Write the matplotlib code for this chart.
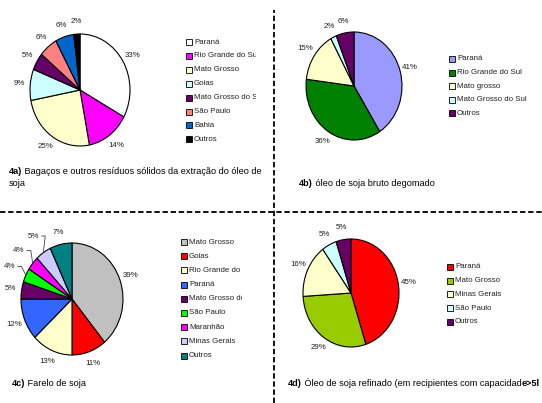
import matplotlib
matplotlib.use('Agg')
import matplotlib.pyplot as plt
import numpy as np
from matplotlib.patches import Rectangle
from matplotlib.lines import Line2D
from matplotlib.text import Annotation
from matplotlib.transforms import Bbox, TransformedBbox

plt.rcParams['font.family'] = ['Liberation Sans', 'DejaVu Sans']

W, H = 542, 403

# ── data ──────────────────────────────────────────────────────────────────────
a_labels = ['Paraná', 'Rio Grande do Sul', 'Mato Grosso', 'Goias',
            'Mato Grosso do Sul', 'São Paulo', 'Bahia', 'Outros']
a_values = [33, 14, 25, 9, 5, 6, 6, 2]
a_colors = ['#FFFFFF', '#FF00FF', '#FFFFCC', '#CCFFFF', '#660066',
            '#FF8080', '#0066CC', '#000000']

b_labels = ['Paraná', 'Rio Grande do Sul', 'Mato grosso',
            'Mato Grosso do Sul', 'Outros']
b_values = [41, 36, 15, 2, 6]
b_colors = ['#9999FF', '#008000', '#FFFFCC', '#CCFFFF', '#660066']

c_labels = ['Mato Grosso', 'Goias', 'Rio Grande do Sul', 'Paraná',
            'Mato Grosso do Sul', 'São Paulo', 'Maranhão', 'Minas Gerais',
            'Outros']
c_values = [39, 11, 13, 12, 5, 4, 4, 5, 7]
c_colors = ['#C0C0C0', '#FF0000', '#FFFFCC', '#3366FF', '#660066',
            '#00FF00', '#FF00FF', '#CCCCFF', '#008080']

d_labels = ['Paraná', 'Mato Grosso', 'Minas Gerais', 'São Paulo', 'Outros']
d_values = [45, 29, 16, 5, 5]
d_colors = ['#FF0000', '#99CC00', '#FFFFCC', '#CCFFFF', '#660066']

FS = 5.7      # pie / legend labels
CAP_FS = 6.6  # captions


def px(x, y):
    return x / W, 1 - y / H


def pie_panel(fig, cx, cy, rx, ry, values, colors, dist=1.22, leaders=()):
    # axes box == pie bbox, aspect auto -> slightly elliptical like the Excel original
    ax = fig.add_axes([(cx - rx) / W, 1 - (cy + ry) / H, 2 * rx / W, 2 * ry / H])
    wedges, _ = ax.pie(values, colors=colors, startangle=90, counterclock=False,
                       radius=1, wedgeprops=dict(edgecolor='black', linewidth=0.8))
    ax.set_aspect('auto')
    ax.set_xlim(-1, 1)
    ax.set_ylim(-1, 1)
    ax.axis('off')
    for i, (w, v) in enumerate(zip(wedges, values)):
        th = np.deg2rad((w.theta1 + w.theta2) / 2)
        d = dist + (0.14 if i in leaders else 0)
        x, y = d * np.cos(th), d * np.sin(th)
        ax.text(x, y, f'{v}%', ha='center', va='center', fontsize=FS,
                color='#222222')
        if i in leaders:
            ax.add_line(Line2D([x + 0.17, x + 0.24, np.cos(th)],
                               [y, y, np.sin(th)], color='#444444',
                               lw=0.6, clip_on=False))
    return ax


def legend_block(fig, x0, y0, step, labels, colors, clip_x=None):
    for i, (lab, col) in enumerate(zip(labels, colors)):
        y = y0 + i * step
        fig.add_artist(Rectangle(px(x0, y + 3), 6 / W, 6 / H,
                                 transform=fig.transFigure, facecolor=col,
                                 edgecolor='black', linewidth=0.6))
        t = fig.text(*px(x0 + 8, y), lab, fontsize=FS, va='center',
                     ha='left', color='#222222')
        if clip_x is not None:
            bb = Bbox.from_extents(0, 0, clip_x / W, 1)
            t.set_clip_box(TransformedBbox(bb, fig.transFigure))
            t.set_clip_on(True)


def caption(fig, x, y, bold, rest, bold_tail=None):
    t = fig.text(*px(x, y), bold, fontsize=CAP_FS, fontweight='bold',
                 va='center', ha='left')
    ann = fig.add_artist(Annotation(' ' + rest, xy=(1, 0), xycoords=t,
                                    va='bottom', ha='left', fontsize=CAP_FS))
    if bold_tail:
        fig.add_artist(Annotation(bold_tail, xy=(1, 0), xycoords=ann,
                                  va='bottom', ha='left', fontsize=CAP_FS,
                                  fontweight='bold'))


fig = plt.figure(figsize=(W / 100, H / 100), dpi=100)
fig.patch.set_facecolor('white')

# dashed separators
fig.add_artist(Line2D([0, 1], [1 - 212 / H] * 2, transform=fig.transFigure,
                      color='black', lw=1.3, ls=(0, (3, 1.5))))
fig.add_artist(Line2D([274 / W] * 2, [0, 1 - 10 / H], transform=fig.transFigure,
                      color='black', lw=1.3, ls=(0, (3, 1.5))))

# 4a
pie_panel(fig, 80, 90, 50, 56, a_values, a_colors)
legend_block(fig, 186, 42, 13.9, a_labels, a_colors, clip_x=256)
caption(fig, 9, 172, '4a)', 'Bagaços e outros resíduos sólidos da extração do óleo de')
fig.text(*px(9, 184), 'soja', fontsize=CAP_FS, va='center', ha='left')

# 4b
pie_panel(fig, 354, 86, 48, 54, b_values, b_colors)
legend_block(fig, 449, 59, 13.6, b_labels, b_colors)
caption(fig, 299, 184, '4b)', 'óleo de soja bruto degomado')

# 4c
pie_panel(fig, 72, 299, 51, 56, c_values, c_colors, leaders=(5, 6, 7))
legend_block(fig, 181, 242, 14.2, c_labels, c_colors, clip_x=242)
caption(fig, 12, 383, '4c)', 'Farelo de soja')

# 4d
pie_panel(fig, 351, 293, 48, 54, d_values, d_colors)
legend_block(fig, 447, 267, 13.7, d_labels, d_colors)
caption(fig, 288, 383, '4d)', 'Óleo de soja refinado (em recipientes com capacidad',
        bold_tail='e>5l')

fig.savefig('out.png', dpi=100)
